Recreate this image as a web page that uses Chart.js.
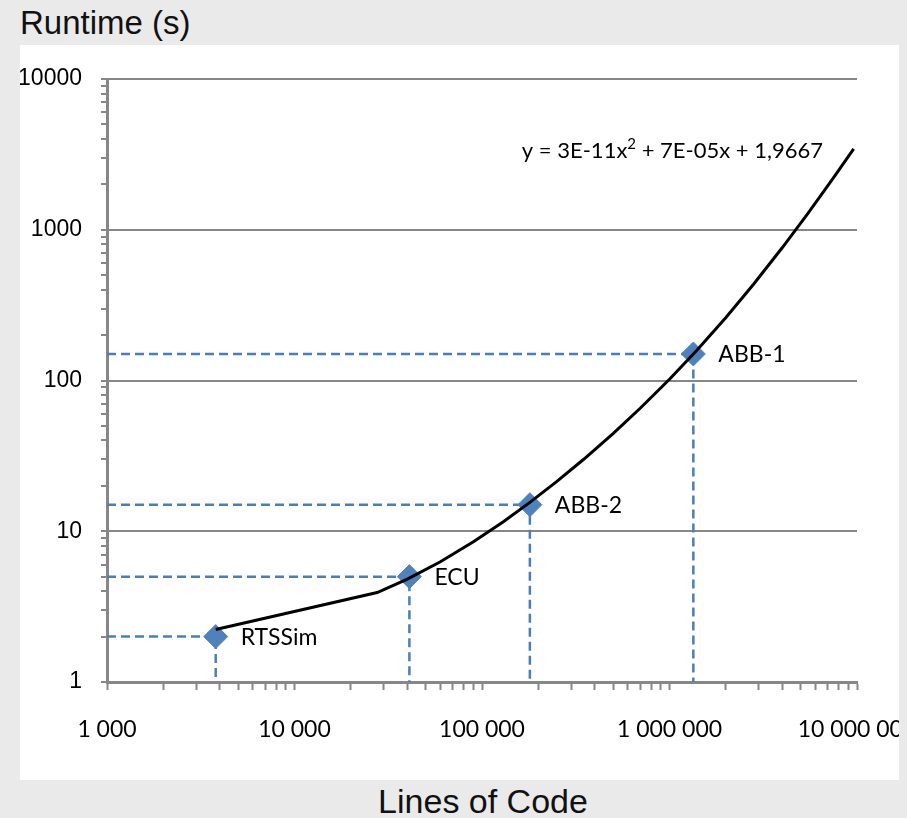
<!DOCTYPE html>
<html>
<head>
<meta charset="utf-8">
<script src="https://cdn.jsdelivr.net/npm/chart.js@4.4.0/dist/chart.umd.min.js"></script>
<style>
  html, body { margin: 0; padding: 0; background: #eaeaea; }
  body { width: 907px; height: 818px; position: relative; overflow: hidden; font-family: "Liberation Sans", Arial, sans-serif; color: #111; }
  #ytitle { position: absolute; left: 20px; top: 6px; font-size: 33px; line-height: 33px; }
  #panel { position: absolute; left: 20px; top: 45px; width: 879px; height: 735px; background: #fff; }
  #xtitle { position: absolute; left: 283px; top: 784px; width: 400px; text-align: center; font-size: 34px; line-height: 34px; }
</style>
</head>
<body>
<div id="ytitle">Runtime (s)</div>
<div id="panel"><canvas id="runtime"></canvas></div>
<div id="xtitle">Lines of Code</div>
<script>
// measured systems
const systems = ['RTSSim', 'ECU', 'ABB-2', 'ABB-1'];
const linesOfCode = [3800, 41000, 180000, 1340000];
const runtimes = [2, 5, 15, 150];

// polynomial trendline as drawn
const trendX = [3800, 27600, 40000, 60000, 90000, 130000, 180000, 250000, 350000, 500000,
                700000, 1000000, 1400000, 2000000, 2800000, 4000000, 5500000, 7500000, 9600000];
const trendY = [2.23, 3.92, 4.82, 6.28, 8.51, 11.57, 15.54, 21.34, 30.14, 44.47,
                65.67, 101.97, 158.77, 261.97, 433.17, 761.97, 1294.5, 2214.5, 3439];
const equation = ['y = 3E-11x', '2', ' + 7E-05x + 1,9667'];

// axes
const xTickValues = [1000, 10000, 100000, 1000000, 10000000];
const xTickLabels = ['1 000', '10 000', '100 000', '1 000 000', '10 000 000'];
const yTickValues = [1, 10, 100, 1000, 10000];
const yTickLabels = ['1', '10', '100', '1000', '10000'];
const minorSteps = [2, 3, 4, 5, 6, 7, 8, 9];

const axisGray = '#878787';
const dashBlue = '#4a7ebb';
const markerBlue = '#4f81bd';

function logTicks(majors) {
    const out = [];
    majors.forEach((v, i) => {
        out.push({ value: v, major: true });
        if (i < majors.length - 1) {
            minorSteps.forEach(m => out.push({ value: v * m, major: false }));
        }
    });
    return out;
}

const dropLines = linesOfCode.map((x, i) => ({
    data: [
        { x: xTickValues[0], y: runtimes[i] },
        { x: x, y: runtimes[i] },
        { x: x, y: yTickValues[0] }
    ],
    showLine: true,
    borderColor: dashBlue,
    borderWidth: 2.5,
    borderDash: [9, 5],
    pointRadius: 0,
    fill: false,
    order: 2
}));

const pointLabels = {
    id: 'pointLabels',
    afterDatasetsDraw(chart) {
        const { ctx, chartArea } = chart;
        const x = chart.scales.x, y = chart.scales.y;
        ctx.save();
        ctx.fillStyle = '#000';
        ctx.font = '23px Lato';
        ctx.textAlign = 'left';
        ctx.textBaseline = 'middle';
        systems.forEach((name, i) => {
            ctx.fillText(name, x.getPixelForValue(linesOfCode[i]) + 25, y.getPixelForValue(runtimes[i]) + 1);
        });

        // trendline equation
        ctx.textBaseline = 'alphabetic';
        ctx.font = '22px Lato';
        const w0 = ctx.measureText(equation[0]).width;
        const w2 = ctx.measureText(equation[2]).width;
        ctx.font = '15px Lato';
        const w1 = ctx.measureText(equation[1]).width;
        let ex = chartArea.right - 34 - (w0 + w1 + w2);
        const eb = chartArea.top + 79;
        ctx.font = '22px Lato';
        ctx.fillText(equation[0], ex, eb);
        ex += w0;
        ctx.font = '15px Lato';
        ctx.fillText(equation[1], ex, eb - 9);
        ex += w1;
        ctx.font = '22px Lato';
        ctx.fillText(equation[2], ex, eb);
        ctx.restore();
    }
};

let runtimeChart = null;
function runtimeGraph() {
    const ctx = document.getElementById('runtime');
    if (runtimeChart) runtimeChart.destroy();

    runtimeChart = new Chart(ctx, {
        type: 'scatter',
        data: {
            datasets: [
                {
                    data: trendX.map((v, i) => ({ x: v, y: trendY[i] })),
                    showLine: true,
                    borderColor: '#000',
                    borderWidth: 3,
                    pointRadius: 0,
                    tension: 0,
                    fill: false,
                    order: 0
                },
                {
                    data: linesOfCode.map((v, i) => ({ x: v, y: runtimes[i] })),
                    showLine: false,
                    pointStyle: 'rectRot',
                    pointRadius: 12,
                    backgroundColor: markerBlue,
                    borderColor: markerBlue,
                    borderWidth: 1,
                    order: 1
                },
                ...dropLines
            ]
        },
        options: {
            responsive: true,
            maintainAspectRatio: false,
            animation: false,
            layout: { padding: { top: 34, right: 42, left: 0, bottom: 0 } },
            plugins: {
                legend: { display: false },
                tooltip: { enabled: false }
            },
            scales: {
                x: {
                    type: 'logarithmic',
                    min: xTickValues[0],
                    max: xTickValues[xTickValues.length - 1],
                    afterBuildTicks: scale => { scale.ticks = logTicks(xTickValues); },
                    afterFit: scale => {
                        scale.height = 98;
                        scale.paddingLeft = 0;
                        scale.paddingRight = 0;
                    },
                    border: { display: true, color: axisGray, width: 3 },
                    grid: {
                        drawOnChartArea: false,
                        color: axisGray,
                        tickColor: axisGray,
                        tickLength: 8,
                        tickWidth: 2
                    },
                    ticks: {
                        autoSkip: false,
                        maxRotation: 0,
                        minRotation: 0,
                        padding: 26,
                        color: '#000',
                        font: { family: 'Lato', size: 23 },
                        callback: value => {
                            const i = xTickValues.indexOf(value);
                            return i >= 0 ? xTickLabels[i] : '';
                        }
                    }
                },
                y: {
                    type: 'logarithmic',
                    min: yTickValues[0],
                    max: yTickValues[yTickValues.length - 1],
                    afterBuildTicks: scale => { scale.ticks = logTicks(yTickValues); },
                    afterFit: scale => {
                        scale.width = 87;
                        scale.paddingTop = 0;
                        scale.paddingBottom = 0;
                    },
                    border: { display: true, color: axisGray, width: 3 },
                    grid: {
                        color: c => (c.tick && c.tick.major) ? axisGray : 'rgba(0,0,0,0)',
                        lineWidth: 2,
                        tickColor: axisGray,
                        tickLength: 6,
                        tickWidth: 2
                    },
                    ticks: {
                        autoSkip: false,
                        padding: 19,
                        color: '#000',
                        font: { family: "'Liberation Sans', Arial, sans-serif", size: 23 },
                        callback: value => {
                            const i = yTickValues.indexOf(value);
                            return i >= 0 ? yTickLabels[i] : '';
                        }
                    }
                }
            }
        },
        plugins: [pointLabels]
    });
}

Promise.all([
    document.fonts.load('22px Lato'),
    document.fonts.load('23px "Liberation Sans"')
]).catch(() => {}).then(runtimeGraph);
</script>
</body>
</html>
